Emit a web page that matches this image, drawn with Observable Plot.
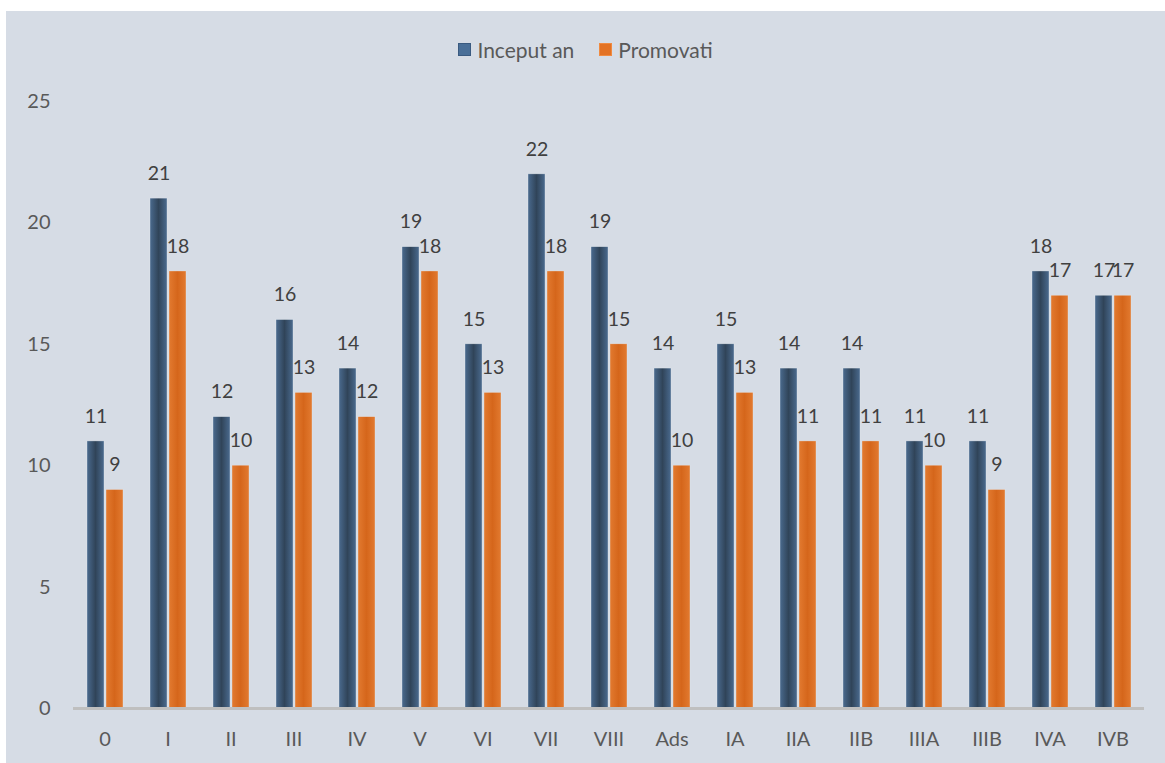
<!DOCTYPE html>
<html>
<head>
<meta charset="utf-8">
<script src="https://cdn.jsdelivr.net/npm/d3@7"></script>
<script src="https://cdn.jsdelivr.net/npm/@observablehq/plot@0.6"></script>
<style>
  html, body { margin: 0; padding: 0; background: #ffffff; }
  #panel { position: absolute; left: 6px; top: 11px; width: 1159px; height: 752px; background: #d6dce5; font-family: Lato, "Open Sans", sans-serif; }
  #legend { position: absolute; left: 0; top: 26px; width: 100%; height: 24px; display: flex; justify-content: center; align-items: center; gap: 25px; font-size: 21px; color: #595959; }
  #legend .item { display: flex; align-items: center; gap: 6px; }
  #legend .sw { width: 13px; height: 13px; display: inline-block; box-sizing: border-box; }
  #chart { position: absolute; left: 0; top: 60px; }
</style>
</head>
<body>
<div id="panel">
  <div id="legend"></div>
  <div id="chart"></div>
</div>
<script>
const categories = ["0","I","II","III","IV","V","VI","VII","VIII","Ads","IA","IIA","IIB","IIIA","IIIB","IVA","IVB"];
const seriesNames = ["Inceput an", "Promovati"];
const inceputAn = [11,21,12,16,14,19,15,22,19,14,15,14,14,11,11,18,17];
const promovati = [9,18,10,13,12,18,13,18,15,10,13,11,11,10,9,17,17];
const yTicks = [0,5,10,15,20,25];
const colors = ["#3d5570", "#d96a1f"];
const legendColors = ["#4a6f98", "#e37224"];

const data = [];
categories.forEach((c, i) => {
  data.push({cat: c, series: seriesNames[0], value: inceputAn[i]});
  data.push({cat: c, series: seriesNames[1], value: promovati[i]});
});

// legend
const legend = document.getElementById("legend");
seriesNames.forEach((s, i) => {
  const it = document.createElement("div");
  it.className = "item";
  const sw = document.createElement("span");
  sw.className = "sw";
  sw.style.background = legendColors[i];
  sw.style.border = "1px solid " + (i === 0 ? "#3a5a80" : "#f08a40");
  const tx = document.createElement("span");
  tx.textContent = s;
  it.appendChild(sw); it.appendChild(tx);
  legend.appendChild(it);
});

const chart = Plot.plot({
  width: 1159,
  height: 692,
  marginTop: 30,
  marginBottom: 55,
  marginLeft: 65,
  marginRight: 19,
  style: { background: "transparent", fontFamily: "Lato, 'Open Sans', sans-serif", fontSize: "20px" },
  fx: { domain: categories, padding: 0, label: null, axis: "bottom", tickSize: 0, tickPadding: 23 },
  x: { domain: seriesNames, paddingInner: 0.11, paddingOuter: 0.695, axis: null },
  y: { domain: [0, 25], ticks: yTicks, tickSize: 0, tickPadding: 23, label: null, grid: false },
  color: { domain: seriesNames, range: colors },
  marks: [
    Plot.barY(data, { fx: "cat", x: "series", y: "value", fill: "series", stroke: "#e8ecf2", strokeWidth: 0.6, strokeOpacity: 0.6 }),
    Plot.ruleY([0], { stroke: "#bfbfbf", strokeWidth: 3 }),
    Plot.text(data, { fx: "cat", x: "series", y: "value", text: d => String(d.value), dy: -25, fill: "#404040", fontSize: 19.5 })
  ]
});

// gradient defs
const svgNS = "http://www.w3.org/2000/svg";
const defs = document.createElementNS(svgNS, "defs");
defs.innerHTML = `
  <linearGradient id="gDark" x1="0" x2="1" y1="0" y2="0">
    <stop offset="0%" stop-color="#4a6a8e"/>
    <stop offset="50%" stop-color="#304459"/>
    <stop offset="100%" stop-color="#4a6a8e"/>
  </linearGradient>
  <linearGradient id="gOrange" x1="0" x2="1" y1="0" y2="0">
    <stop offset="0%" stop-color="#e27a30"/>
    <stop offset="50%" stop-color="#d5661b"/>
    <stop offset="100%" stop-color="#e27a30"/>
  </linearGradient>`;
chart.insertBefore(defs, chart.firstChild);
d3.select(chart).selectAll("rect").each(function() {
  const f = (this.getAttribute("fill") || "").toLowerCase();
  if (f === colors[0]) this.setAttribute("fill", "url(#gDark)");
  else if (f === colors[1]) this.setAttribute("fill", "url(#gOrange)");
});
d3.select(chart).selectAll("g[aria-label*='axis'] text").attr("fill", "#595959");

document.getElementById("chart").appendChild(chart);
</script>
</body>
</html>
